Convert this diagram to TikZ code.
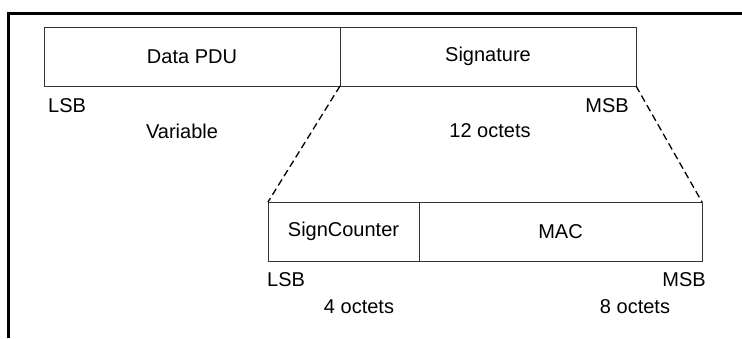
\documentclass[tikz,border=0pt]{standalone}
\usepackage{fontspec}
\setmainfont{Liberation Sans}
\begin{document}
\begin{tikzpicture}[x=1pt,y=-1pt,
  field/.style={draw=black!80, line width=1pt, inner sep=0pt, outer sep=0pt, font=\fontsize{20}{24}\selectfont},
  lbl/.style={inner sep=0pt, font=\fontsize{20}{24}\selectfont},
  frameline/.style={line width=3pt, black},
  zoomline/.style={line width=1.3pt, dash pattern=on 7pt off 4pt}]
\useasboundingbox (0,0) rectangle (742,338);
\coordinate (fa) at (742,13);
\coordinate (fb) at (8,13);
\coordinate (fc) at (8,338);
\draw[frameline] (fa) -- (fb) -- (fc);
% top row
\node[field, minimum width=296pt, minimum height=59pt] (pdu) at (192,56.5) {Data PDU};
\node[field, minimum width=296pt, minimum height=59pt] (sig) at (488,56.5) {Signature};
% bottom row
\node[field, minimum width=151pt, minimum height=59pt] (sc) at (343.5,231.5) {SignCounter};
\node[field, minimum width=283pt, minimum height=59pt] (mac) at (560.5,231.5) {MAC};
% zoom lines
\draw[zoomline] (sig.south west) -- (sc.north west);
\draw[zoomline] (sig.south east) -- (mac.north east);
% labels
\node[lbl, anchor=west] (lsb1) at (48,106) {LSB};
\node[lbl, anchor=east] (msb1) at (629,106) {MSB};
\node[lbl] (var) at (182,131) {Variable};
\node[lbl] (o12) at (490,131) {12 octets};
\node[lbl, anchor=west] (lsb2) at (267,280) {LSB};
\node[lbl, anchor=east] (msb2) at (706,280) {MSB};
\node[lbl] (o4) at (359,307) {4 octets};
\node[lbl] (o8) at (635,307) {8 octets};
\end{tikzpicture}
\end{document}
